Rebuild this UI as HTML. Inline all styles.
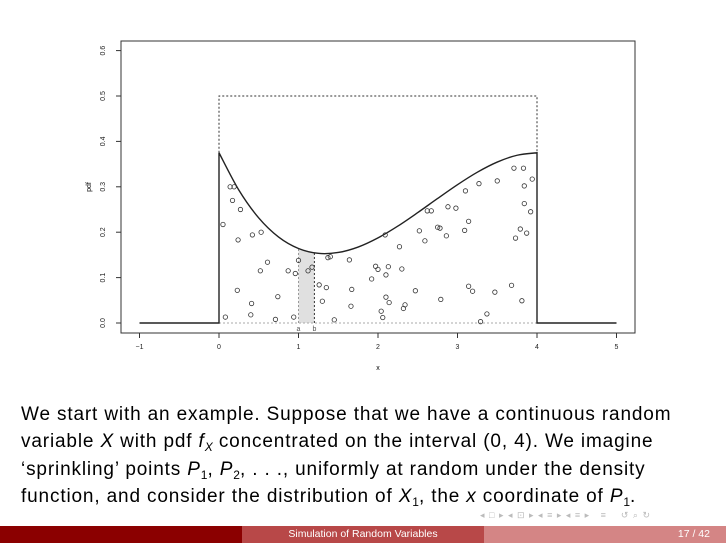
<!DOCTYPE html>
<html><head><meta charset="utf-8"><style>
body{margin:0;width:726px;height:543px;background:#fff;overflow:hidden;position:relative;font-family:"Liberation Sans",sans-serif}
#txt{position:absolute;left:21px;top:401px;font-size:19px;letter-spacing:0.85px;line-height:27.3px;color:#000;white-space:nowrap}
#txt sub{font-size:12px;line-height:0;vertical-align:-4px;letter-spacing:0}
.bar{position:absolute;top:526px;height:17px;font-size:10.5px;color:#fff;line-height:17px}
</style></head><body>
<svg width="726" height="400" style="position:absolute;left:0;top:0" id="chart"></svg>
<div id="txt">We start with an example. Suppose that we have a continuous random<br>variable <i>X</i> with pdf <i>f<sub>X</sub></i> concentrated on the interval (0, 4). We imagine<br>‘sprinkling’ points <i>P</i><sub>1</sub>, <i>P</i><sub>2</sub>, . . ., uniformly at random under the density<br>function, and consider the distribution of <i>X</i><sub>1</sub>, the <i>x</i> coordinate of <i>P</i><sub>1</sub>.</div>
<div style="position:absolute;left:480px;top:510px;font-size:9px;line-height:10px;color:#bbb;letter-spacing:1px">◂ □ ▸ ◂ ⊡ ▸ ◂ ≡ ▸ ◂ ≡ ▸ &nbsp; ≡ &nbsp;&nbsp; ↺ ⌕ ↻</div>
<div class="bar" style="left:0;width:242px;background:#8b0000"></div>
<div class="bar" style="left:242px;width:242px;background:#b84848;text-align:center">Simulation of Random Variables</div>
<div class="bar" style="left:484px;width:242px;background:#d48585;text-align:right"><span style="padding-right:16px">17 / 42</span></div>
<script>
const pdfX=[0,0.25,0.5,0.75,1,1.25,1.5,1.75,2,2.25,2.5,2.75,3,3.25,3.5,3.75,4];
const pdfY=[0.375,0.2926,0.2314,0.1893,0.1641,0.1534,0.1553,0.1673,0.1875,0.2135,0.2432,0.2743,0.3047,0.3322,0.3545,0.3695,0.375];
const ptX=[0.14,0.19,0.17,0.27,0.05,0.24,0.42,0.53,0.61,0.52,0.87,0.96,1.0,1.12,1.17,1.37,1.40,1.64,1.97,2.0,1.92,1.26,1.35,1.67,0.23,0.74,0.41,1.30,1.66,0.40,0.08,0.71,0.94,1.45,3.71,3.83,3.94,3.50,3.27,3.84,3.10,3.84,2.88,2.98,2.62,2.67,3.92,3.14,2.75,2.78,2.52,3.09,3.79,3.87,2.86,3.73,2.09,2.59,2.27,2.13,2.30,2.10,3.14,3.19,3.68,3.47,2.47,2.10,2.14,2.79,3.81,2.34,2.32,2.04,2.06,3.37,3.29];
const ptY=[0.30,0.30,0.27,0.25,0.217,0.183,0.194,0.20,0.134,0.115,0.115,0.109,0.138,0.115,0.123,0.144,0.146,0.139,0.125,0.118,0.097,0.084,0.078,0.074,0.072,0.058,0.043,0.048,0.037,0.018,0.013,0.008,0.013,0.007,0.341,0.341,0.317,0.313,0.307,0.302,0.291,0.263,0.256,0.253,0.247,0.247,0.245,0.224,0.211,0.209,0.203,0.204,0.207,0.198,0.192,0.187,0.194,0.181,0.168,0.124,0.119,0.106,0.081,0.070,0.083,0.068,0.071,0.057,0.045,0.052,0.049,0.040,0.032,0.026,0.012,0.020,0.003];
const xTicks=[-1,0,1,2,3,4,5];
const yTicks=[0,0.1,0.2,0.3,0.4,0.5,0.6];
const aVal=1, bVal=1.2, boxTop=0.5;
const X=v=>219+v*79.5, Y=v=>323-v*454;
const svg=document.getElementById('chart');const NS='http://www.w3.org/2000/svg';
function mk(t,a,name){const e=document.createElementNS(NS,t);for(const k in a)e.setAttribute(k,a[k]);


svg.appendChild(e);return e;}
function f(x){let i=Math.min(Math.floor(x/0.25),pdfX.length-2);const t=(x-pdfX[i])/0.25;return pdfY[i]*(1-t)+pdfY[i+1]*t;}
mk('rect',{x:121,y:41,width:514,height:292,fill:'none',stroke:'#333','stroke-width':1},'plot-frame');
let sp=`M${X(aVal)},${Y(0)}`;for(let x=aVal;x<=bVal+1e-9;x+=0.05)sp+=` L${X(x)},${Y(f(x))}`;sp+=` L${X(bVal)},${Y(0)}Z`;
mk('path',{d:sp,fill:'#e0e0e0'},'shaded-interval');
mk('line',{x1:X(aVal),y1:Y(0),x2:X(aVal),y2:Y(f(aVal)),stroke:'#999','stroke-dasharray':'2,2'},'line-a');
mk('line',{x1:X(bVal),y1:Y(0),x2:X(bVal),y2:Y(f(bVal)),stroke:'#333','stroke-dasharray':'2,2'},'line-b');
mk('path',{d:`M${X(0)},${Y(f(0))} L${X(0)},${Y(boxTop)} L${X(4)},${Y(boxTop)} L${X(4)},${Y(f(4))}`,fill:'none',stroke:'#333','stroke-dasharray':'2,2'},'bounding-box');
mk('line',{x1:X(0),y1:Y(0),x2:X(4),y2:Y(0),stroke:'#aaa','stroke-dasharray':'2,2'},'baseline');
const P=pdfX.map((x,i)=>[X(x),Y(pdfY[i])]);
let d=`M${X(-1)},${Y(0)} L${X(0)},${Y(0)} L${P[0][0]},${P[0][1]}`;
for(let i=0;i<P.length-1;i++){const p0=P[Math.max(i-1,0)],p1=P[i],p2=P[i+1],p3=P[Math.min(i+2,P.length-1)];
d+=` C${p1[0]+(p2[0]-p0[0])/6},${p1[1]+(p2[1]-p0[1])/6} ${p2[0]-(p3[0]-p1[0])/6},${p2[1]-(p3[1]-p1[1])/6} ${p2[0]},${p2[1]}`;}
d+=` L${X(4)},${Y(0)} L${X(5)},${Y(0)}`;
mk('path',{d:d,fill:'none',stroke:'#222','stroke-width':1.4},'pdf-curve');
ptX.forEach((x,i)=>mk('circle',{cx:X(x),cy:Y(ptY[i]),r:2.2,fill:'none',stroke:'#333','stroke-width':0.8},'scatter-point'));
xTicks.forEach(t=>{mk('line',{x1:X(t),y1:333,x2:X(t),y2:338,stroke:'#333'},'x-tick');
const e=mk('text',{x:X(t),y:349,'font-size':7,'text-anchor':'middle',fill:'#222'},'x-tick-label');e.textContent=t<0?'−1':t;});
yTicks.forEach(t=>{mk('line',{x1:116,y1:Y(t),x2:121,y2:Y(t),stroke:'#333'},'y-tick');
const e=mk('text',{x:0,y:0,'font-size':7,'text-anchor':'middle',fill:'#222',transform:`translate(105,${Y(t)}) rotate(-90)`},'y-tick-label');e.textContent=t.toFixed(1);});
let e=mk('text',{x:378,y:370,'font-size':7,'text-anchor':'middle'},'x-axis-title');e.textContent='x';
e=mk('text',{x:0,y:0,'font-size':7,'text-anchor':'middle',transform:'translate(91,187) rotate(-90)'},'y-axis-title');e.textContent='pdf';
e=mk('text',{x:X(aVal),y:331,'font-size':7,'text-anchor':'middle',fill:'#555'},'label-a');e.textContent='a';
e=mk('text',{x:X(bVal),y:331,'font-size':7,'text-anchor':'middle',fill:'#555'},'label-b');e.textContent='b';
</script>
</body></html>
